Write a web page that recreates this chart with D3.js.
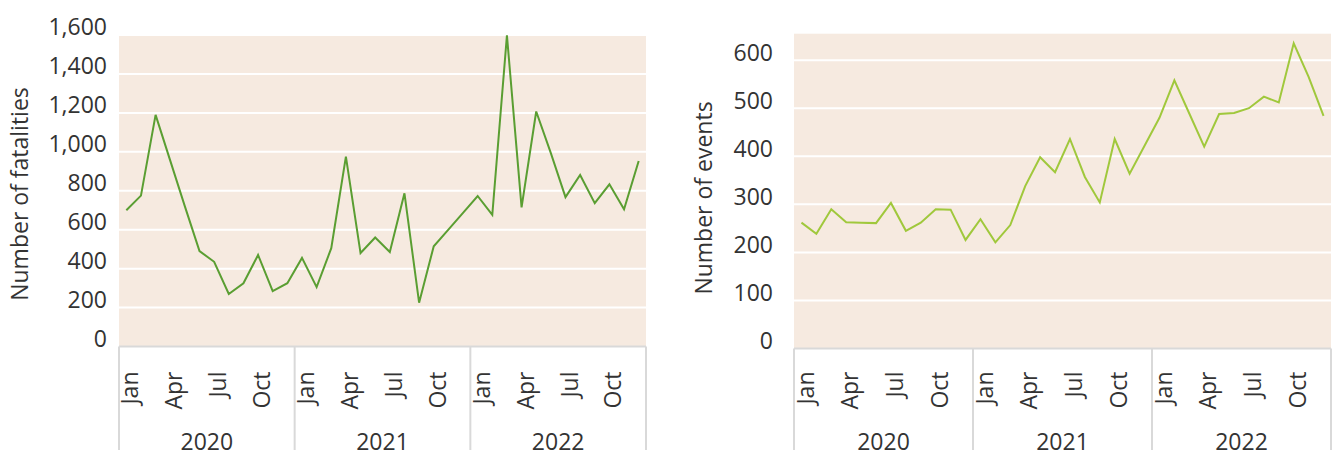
<!DOCTYPE html>
<html lang="en">
<head>
<meta charset="utf-8">
<script src="https://cdn.jsdelivr.net/npm/d3@7/dist/d3.min.js"></script>
<style>
    body { margin: 0; background: #fff; }
    svg text {
        font-family: "Open Sans", "Noto Sans", sans-serif;
        font-size: 23px;
        fill: #333;
    }
</style>
</head>
<body>
<svg id="chart" width="1338" height="457"></svg>
<script>
    // data
    var years = ["2020", "2021", "2022"];
    var months = ["Jan", "Feb", "Mar", "Apr", "May", "Jun", "Jul", "Aug", "Sep", "Oct", "Nov", "Dec"];
    var shownMonths = ["Jan", "Apr", "Jul", "Oct"];

    var fatalities = [
        700, 775, 1190, 955, 720, 490, 435, 270, 325, 470, 285, 325,
        455, 305, 505, 975, 480, 560, 485, 787, 225, 515, 600, 686,
        773, 676, 1598, 715, 1207, 993, 767, 881, 736, 833, 705, 953
    ];
    var events = [
        262, 239, 290, 263, 262, 261, 303, 245, 262, 290, 289, 226,
        269, 221, 257, 338, 398, 367, 436, 357, 304, 436, 364, 422,
        480, 558, 489, 420, 488, 490, 500, 524, 512, 635, 565, 484
    ];
    var fatalityTicks = [0, 200, 400, 600, 800, 1000, 1200, 1400, 1600];
    var eventTicks = [0, 100, 200, 300, 400, 500, 600];

    var keys = [];
    years.forEach(function(y) {
        months.forEach(function(m) { keys.push(y + "-" + m); });
    });

    var svg = d3.select("#chart");

    function panel(opt) {
        var x = d3.scaleBand()
            .domain(keys)
            .range([opt.left, opt.right]);

        var y = d3.scaleLinear()
            .domain([0, opt.max])
            .range([opt.bottom, opt.top]);

        var g = svg.append("g");

        // plot background
        g.append("rect")
            .attr("x", opt.left)
            .attr("y", opt.top)
            .attr("width", opt.right - opt.left)
            .attr("height", opt.bottom - opt.top)
            .attr("fill", "#f6eae0");

        // gridlines
        g.selectAll(".grid")
            .data(opt.ticks.filter(d => d > 0))
            .join("line")
            .attr("x1", opt.left)
            .attr("x2", opt.right)
            .attr("y1", d => y(d))
            .attr("y2", d => y(d))
            .attr("stroke", "#fff")
            .attr("stroke-width", 2);

        // y tick labels
        g.selectAll(".ylab")
            .data(opt.ticks)
            .join("text")
            .attr("x", opt.labelX)
            .attr("y", d => y(d))
            .attr("dy", "0.02em")
            .attr("text-anchor", "end")
            .text(d => d3.format(",")(d));

        // y title
        g.append("text")
            .attr("transform", "translate(" + opt.titleX + "," + opt.titleY + ") rotate(-90)")
            .attr("text-anchor", "middle")
            .text(opt.title);

        // bottom axis line
        g.append("line")
            .attr("x1", opt.left)
            .attr("x2", opt.right)
            .attr("y1", opt.bottom)
            .attr("y2", opt.bottom)
            .attr("stroke", "#d9d9d9")
            .attr("stroke-width", 2);

        // year separators
        var bounds = years.map(yr => x(yr + "-Jan")).concat([opt.right]);
        g.selectAll(".sep")
            .data(bounds)
            .join("line")
            .attr("x1", d => d)
            .attr("x2", d => d)
            .attr("y1", opt.bottom)
            .attr("y2", 450)
            .attr("stroke", "#d9d9d9")
            .attr("stroke-width", 2);

        // month labels
        var monthKeys = [];
        years.forEach(yr => shownMonths.forEach(m => monthKeys.push({key: yr + "-" + m, label: m})));
        g.selectAll(".mlab")
            .data(monthKeys)
            .join("text")
            .attr("transform", d => "translate(" + (x(d.key) + x.bandwidth() / 2 + 4) + ",371.5) rotate(-90)")
            .attr("dy", "0.35em")
            .attr("text-anchor", "end")
            .text(d => d.label);

        // year labels
        g.selectAll(".ylbl")
            .data(years)
            .join("text")
            .attr("x", yr => (x(yr + "-Jan") + x(yr + "-Dec") + x.bandwidth()) / 2)
            .attr("y", 450)
            .attr("text-anchor", "middle")
            .text(yr => yr);

        // the line
        var line = d3.line()
            .x((d, i) => x(keys[i]) + x.bandwidth() / 2)
            .y(d => y(d));

        g.append("path")
            .attr("d", line(opt.values))
            .attr("fill", "none")
            .attr("stroke", opt.color)
            .attr("stroke-width", 2)
            .attr("stroke-linejoin", "miter");
    }

    panel({
        values: fatalities, ticks: fatalityTicks, max: 1600,
        left: 119, right: 646, top: 35, bottom: 346.5,
        labelX: 107, titleX: 28, titleY: 194,
        title: "Number of fatalities", color: "#5a9e32"
    });

    panel({
        values: events, ticks: eventTicks, max: 655,
        left: 794, right: 1331, top: 33.7, bottom: 348.6,
        labelX: 773, titleX: 712, titleY: 198,
        title: "Number of events", color: "#a0c83c"
    });
</script>
</body>
</html>
